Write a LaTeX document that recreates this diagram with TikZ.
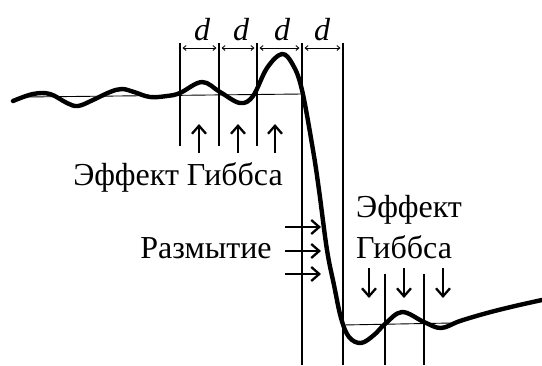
\documentclass[tikz,border=0pt]{standalone}
\usepackage{fontspec}
\setmainfont{LiberationSerif}[Extension=.ttf,UprightFont=*-Regular,ItalicFont=*-Italic,BoldFont=*-Bold]
\usetikzlibrary{arrows.meta}
\begin{document}
\begin{tikzpicture}[x=1pt,y=-1pt,
  guide/.style={line width=1.2pt},
  refline/.style={line width=0.9pt},
  signal/.style={line width=4.4pt,line join=round,line cap=round},
  dim/.style={line width=0.9pt,{Straight Barb[length=3pt,width=5pt]}-{Straight Barb[length=3pt,width=5pt]}},
  pointer/.style={line width=2.3pt,-{Straight Barb[length=8pt,width=14pt,line width=2.3pt]}},
  lbl/.style={font=\fontsize{32}{36}\selectfont,inner sep=0pt},
  dlbl/.style={font=\fontsize{32}{34}\selectfont\itshape,inner sep=0pt,anchor=base}]
\useasboundingbox (0,0) rectangle (542,365);
% guide lines
\coordinate (g1t) at (180,43); \coordinate (g1b) at (180,146);
\coordinate (g2t) at (219,43); \coordinate (g2b) at (219,146);
\coordinate (g3t) at (257,43); \coordinate (g3b) at (257,146);
\coordinate (g4t) at (302,43); \coordinate (g4b) at (302,365);
\coordinate (g5t) at (343,43); \coordinate (g5b) at (343,365);
\coordinate (g6t) at (385,274); \coordinate (g6b) at (385,365);
\coordinate (g7t) at (424,274); \coordinate (g7b) at (424,365);
\foreach \i in {1,...,7} {\draw[guide] (g\i t) -- (g\i b);}
% reference levels
\coordinate (r1a) at (25,97); \coordinate (r1b) at (302,94);
\coordinate (r2a) at (343,325); \coordinate (r2b) at (452,323);
\draw[refline] (r1a) -- (r1b);
\draw[refline] (r2a) -- (r2b);
% dimension arrows
\draw[dim] (182.5,48) -- (216.5,48);
\draw[dim] (221.5,48) -- (254.5,48);
\draw[dim] (259.5,48) -- (299.5,48);
\draw[dim] (304.5,48) -- (340.5,48);
\node[dlbl] (d1) at (202,40) {d};
\node[dlbl] (d2) at (241,40) {d};
\node[dlbl] (d3) at (282,40) {d};
\node[dlbl] (d4) at (322,40) {d};
% signal
\draw[signal] plot[smooth,tension=0.6] coordinates {
 (13,101) (33,94) (50,94) (67,103) (78,106) (93,100) (110,92) (122,89) (134,92)
 (150,97) (167,96) (180,93) (202,82) (220,92) (240,103) (253,96) (267,68)
 (282,54) (293,65) (302,90) (313,150) (319,190) (327,250) (334,285) (341,318)
 (349,337) (361,343) (374,335) (385,324) (402,312) (424,322) (441,328)
 (460,321) (487,313) (515,306) (542,300)};
% Gibbs arrows (top)
\draw[pointer] (199,153) -- (199,124);
\draw[pointer] (238,153) -- (238,124);
\draw[pointer] (275,153) -- (275,124);
% blur arrows
\draw[pointer] (285,227) -- (321,227);
\draw[pointer] (285,251) -- (321,251);
\draw[pointer] (285,274) -- (321,274);
% Gibbs arrows (bottom)
\draw[pointer] (369,268) -- (369,298);
\draw[pointer] (404,268) -- (404,298);
\draw[pointer] (443,268) -- (443,298);
% labels
\node[lbl,anchor=base] (gibbs1) at (178,185) {Эффект Гиббса};
\node[lbl,anchor=base] (blur) at (206,258) {Размытие};
\node[lbl,anchor=base west] (gibbs2a) at (356,217) {Эффект};
\node[lbl,anchor=base west] (gibbs2b) at (356,258) {Гиббса};
\end{tikzpicture}
\end{document}
